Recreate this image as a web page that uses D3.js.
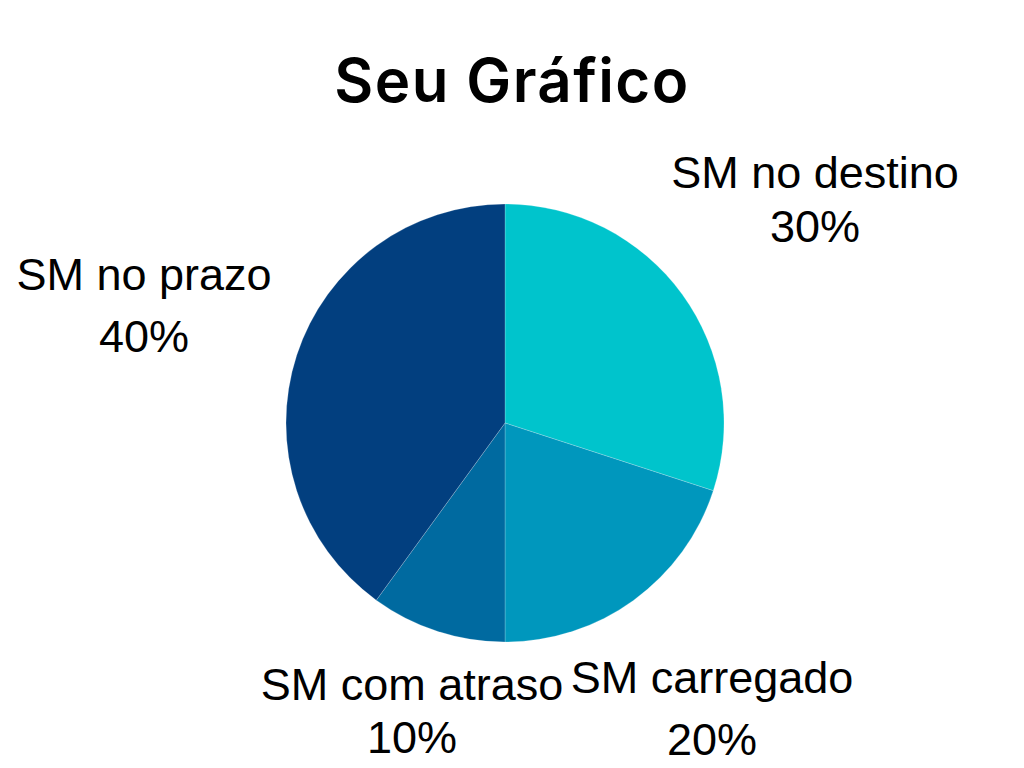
<!DOCTYPE html>
<html><head><meta charset="utf-8">
<script src="https://cdn.jsdelivr.net/npm/d3@7"></script>
<style>body{margin:0;background:#fff}</style>
</head><body>
<svg id="c" width="1024" height="768"></svg>
<script>
const categories = ["SM no destino", "SM carregado", "SM com atraso", "SM no prazo"];
const values = [30, 20, 10, 40];
const percentLabels = ["30%", "20%", "10%", "40%"];
const colors = ["#00C4CC", "#0097BD", "#006AA0", "#023F7F"];

const svg = d3.select("#c");
svg.append("rect").attr("width",1024).attr("height",768).attr("fill","#fff");

svg.append("text").attr("x",512).attr("y",102).attr("text-anchor","middle")
  .attr("font-family","Inter, 'Open Sans', sans-serif").attr("font-weight",600)
  .attr("letter-spacing",1.4)
  .attr("font-size",60).attr("fill","#000").text("Seu Gráfico");

const cx = 505, cy = 423, r = 219;
const pie = d3.pie().sort(null).value(d => d)(values);
const arc = d3.arc().innerRadius(0).outerRadius(r);
const g = svg.append("g").attr("transform",`translate(${cx},${cy})`);
g.selectAll("path").data(pie).join("path").attr("d",arc)
  .attr("fill",(d,i)=>colors[i]).attr("stroke","rgba(255,255,255,0.35)").attr("stroke-width",0.6);

const labelPos = [
  {x:815, y1:188, y2:242},
  {x:712, y1:693, y2:755},
  {x:412, y1:700, y2:753},
  {x:144, y1:290, y2:352}
];
const lg = svg.append("g").attr("font-family","'Liberation Sans', Arial, sans-serif")
  .attr("font-size",45).attr("fill","#000").attr("text-anchor","middle");
categories.forEach((c,i)=>{
  lg.append("text").attr("x",labelPos[i].x).attr("y",labelPos[i].y1).text(c);
  lg.append("text").attr("x",labelPos[i].x).attr("y",labelPos[i].y2).text(percentLabels[i]);
});
</script>
</body></html>
